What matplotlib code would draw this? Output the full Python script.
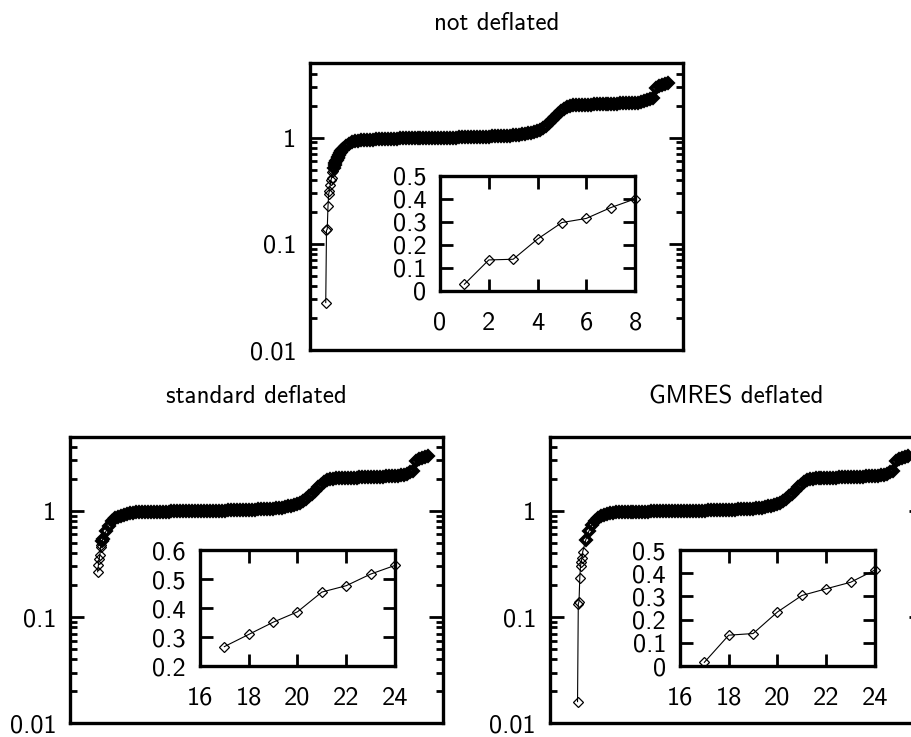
import numpy as np
import matplotlib
matplotlib.use("Agg")
import matplotlib.pyplot as plt
from matplotlib.ticker import LogLocator, NullFormatter

plt.rcParams['font.family'] = ['cmss10', 'DejaVu Sans']
plt.rcParams['font.size'] = 15
plt.rcParams['axes.unicode_minus'] = False

# smallest eigenvalues, one per index
nd_head_idx = list(range(1, 25)) + list(range(28, 60, 4))
nd_head = [0.028, 0.134, 0.137, 0.225, 0.297, 0.315, 0.362, 0.40,
           0.42, 0.47, 0.49, 0.52, 0.55, 0.58, 0.60, 0.62,
           0.64, 0.66, 0.69, 0.71, 0.73, 0.75, 0.77, 0.78,
           0.83, 0.87, 0.90, 0.92, 0.93, 0.94, 0.95, 0.955]

sd_head_idx = list(range(17, 25)) + list(range(28, 60, 4))
sd_head = [0.267, 0.309, 0.351, 0.387, 0.455, 0.477, 0.517, 0.547,
           0.64, 0.72, 0.80, 0.85, 0.88, 0.90, 0.92, 0.935]

gd_head_idx = list(range(17, 25)) + list(range(28, 60, 4))
gd_head = [0.016, 0.133, 0.14, 0.233, 0.304, 0.333, 0.361, 0.414,
           0.53, 0.64, 0.73, 0.81, 0.86, 0.89, 0.91, 0.93]

# rest of the spectrum (same in all three), sampled every 4th index from 60
bulk_start = 60
bulk = [0.955, 0.96, 0.965, 0.97, 0.972, 0.975, 0.977, 0.978, 0.98, 0.981,
        0.982, 0.983, 0.984, 0.985, 0.986, 0.987, 0.988, 0.989, 0.99, 0.991,
        0.992, 0.993, 0.994, 0.995, 0.996, 0.997, 0.998, 0.999, 1.0, 1.001,
        1.003, 1.004, 1.006, 1.008, 1.01, 1.012, 1.014, 1.016, 1.018, 1.02,
        1.022, 1.025, 1.028, 1.031, 1.034, 1.038, 1.042, 1.047, 1.052, 1.058,
        1.066, 1.075, 1.086, 1.10, 1.115, 1.135, 1.16, 1.19, 1.24, 1.30,
        1.37, 1.45, 1.55, 1.66, 1.77, 1.87, 1.94, 1.99, 2.01, 2.02,
        2.03, 2.035, 2.04, 2.045, 2.05, 2.055, 2.06, 2.065, 2.07, 2.075,
        2.08, 2.085, 2.09, 2.095, 2.10, 2.105, 2.11, 2.115, 2.12, 2.13,
        2.14, 2.16, 2.19, 2.24, 2.30, 2.38, 2.95, 3.05, 3.13, 3.21, 3.3]
bulk_idx = list(bulk_start + 4 * np.arange(len(bulk)))

# insets: the first few values after the deflated ones
nd_ins_x = [1, 2, 3, 4, 5, 6, 7, 8]
nd_ins_y = [0.028, 0.134, 0.137, 0.225, 0.297, 0.315, 0.362, 0.40]
sd_ins_x = [17, 18, 19, 20, 21, 22, 23, 24]
sd_ins_y = [0.267, 0.309, 0.351, 0.387, 0.455, 0.477, 0.517, 0.547]
gd_ins_x = [17, 18, 19, 20, 21, 22, 23, 24]
gd_ins_y = [0.016, 0.133, 0.14, 0.233, 0.304, 0.333, 0.361, 0.414]

main_yticks = [0.01, 0.1, 1]
main_ylabels = ['0.01', '0.1', '1']
ins_a_xticks = [0, 2, 4, 6, 8]
ins_b_xticks = [16, 18, 20, 22, 24]
ins_a_yticks = [0, 0.1, 0.2, 0.3, 0.4, 0.5]
ins_a_ylabels = ['0', '0.1', '0.2', '0.3', '0.4', '0.5']
ins_b_yticks = [0.2, 0.3, 0.4, 0.5, 0.6]
ins_b_ylabels = ['0.2', '0.3', '0.4', '0.5', '0.6']

TICK_FS = 19
fig = plt.figure(figsize=(9.12, 7.37), dpi=100)


def main_panel(rect, title, head_idx, head_vals):
    ax = fig.add_axes(rect)
    idx = np.array(head_idx + bulk_idx)
    vals = np.array(head_vals + bulk)
    ax.plot(idx, vals, '-', color='black', lw=0.8)
    sparse = vals < 0.5
    ax.plot(idx[sparse], vals[sparse], 'D', ms=5, mfc='none', mec='black', mew=0.9)
    # the rest are packed so tightly they merge into a black band
    ax.plot(idx[~sparse], vals[~sparse], 'D', ms=5.2, mfc='none', mec='black', mew=2.6)
    ax.set_yscale('log')
    ax.set_ylim(0.01, 5)
    ax.set_xlim(-20, 480)
    ax.set_xticks([])
    ax.set_yticks(main_yticks)
    ax.set_yticklabels(main_ylabels, fontsize=TICK_FS)
    ax.yaxis.set_minor_locator(LogLocator(base=10, subs=range(2, 10)))
    ax.yaxis.set_minor_formatter(NullFormatter())
    ax.tick_params(axis='y', which='both', direction='in',
                   left=True, right=True, width=2)
    ax.tick_params(axis='y', which='major', length=10, pad=10)
    ax.tick_params(axis='y', which='minor', length=5)
    for s in ax.spines.values():
        s.set_linewidth(2.4)
    ax.set_title(title, pad=24)
    return ax


def inset(rect, x, y, xlim, ylim, xticks, yticks, ylabels):
    ax = fig.add_axes(rect)
    ax.plot(x, y, '-', color='black', lw=0.8, marker='D', ms=5,
            mfc='none', mec='black', mew=0.9, clip_on=False)
    ax.set_xlim(xlim)
    ax.set_ylim(ylim)
    ax.set_xticks(xticks)
    ax.set_xticklabels([str(t) for t in xticks], fontsize=TICK_FS)
    ax.set_yticks(yticks)
    ax.set_yticklabels(ylabels, fontsize=TICK_FS)
    ax.tick_params(direction='in', top=True, right=True, length=9, width=2)
    ax.tick_params(axis='x', pad=15)
    ax.tick_params(axis='y', pad=10)
    for s in ax.spines.values():
        s.set_linewidth(2.4)
    return ax


main_panel([0.340, 0.525, 0.409, 0.389], 'not deflated', nd_head_idx, nd_head)
inset([0.4825, 0.6056, 0.2138, 0.1556], nd_ins_x, nd_ins_y,
      (0, 8), (0, 0.5), ins_a_xticks, ins_a_yticks, ins_a_ylabels)

main_panel([0.0768, 0.0186, 0.409, 0.389], 'standard deflated', sd_head_idx, sd_head)
inset([0.2193, 0.0963, 0.2138, 0.1574], sd_ins_x, sd_ins_y,
      (16, 24), (0.2, 0.6), ins_b_xticks, ins_b_yticks, ins_b_ylabels)

main_panel([0.603, 0.0186, 0.409, 0.389], 'GMRES deflated', gd_head_idx, gd_head)
inset([0.7456, 0.0963, 0.2138, 0.1574], gd_ins_x, gd_ins_y,
      (16, 24), (0, 0.5), ins_b_xticks, ins_a_yticks, ins_a_ylabels)

fig.savefig('out.png', dpi=100)
